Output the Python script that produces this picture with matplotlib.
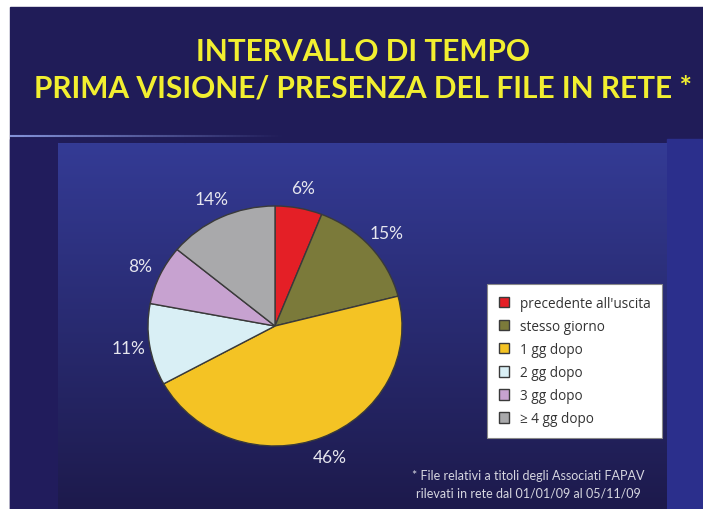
import matplotlib.pyplot as plt
from matplotlib.patches import Rectangle
import numpy as np

# data
labels = ["precedente all'uscita", "stesso giorno", "1 gg dopo",
          "2 gg dopo", "3 gg dopo", "\u2265 4 gg dopo"]
values = [6, 15, 46, 11, 8, 14]
colors = ['#e41f26', '#7b7a3a', '#f4c324', '#d9eff5', '#c7a2d0', '#a9a9ab']

title = "INTERVALLO DI TEMPO\nPRIMA VISIONE/ PRESENZA DEL FILE IN RETE *"
note = "* File relativi a titoli degli Associati FAPAV\nrilevati in rete dal 01/01/09 al 05/11/09"

W, H = 703, 510
fig = plt.figure(figsize=(W / 100, H / 100), dpi=100)
fig.patch.set_facecolor('white')

# slide background drawn in pixel coordinates
bg = fig.add_axes([0, 0, 1, 1])
bg.axis('off')
bg.add_patch(Rectangle((10, 8), W - 10, H - 8, color='#201c58', zorder=0))
bg.add_patch(Rectangle((10, 140), 48, H - 140, color='#211c5c', zorder=0))
bg.add_patch(Rectangle((667, 140), W - 667, H - 140, color='#2b2f8c', zorder=0))
grad = np.linspace(0, 1, 256)[:, None]
top = np.array([0x34, 0x3b, 0x95]) / 255
bot = np.array([0x1d, 0x1a, 0x4c]) / 255
img = top[None, None, :] * (1 - grad[..., None]) + bot[None, None, :] * grad[..., None]
bg.imshow(img, extent=(58, 667, H, 144), aspect='auto', interpolation='bilinear', zorder=1)
# thin glow line under the header
xs = np.linspace(10, W, 200)
for i in range(len(xs) - 1):
    a = max(0.0, 0.9 - (xs[i] - 10) / 300)
    bg.plot(xs[i:i + 2], [137, 137], color='#8fa0e8', lw=1.5, alpha=a,
            solid_capstyle='butt', zorder=2)
bg.set_xlim(0, W)
bg.set_ylim(H, 0)

fig.text(0.516, 0.862, title, ha='center', va='center', color='#f2ef30',
         fontsize=21.5, fontweight='bold', family='Lato', linespacing=1.4)

# pie
ax = fig.add_axes([148 / W, 1 - 447 / H, 254 / W, 240 / H])
wedges, _, autotexts = ax.pie(values, colors=colors, startangle=90, counterclock=False,
                              autopct='%d%%', pctdistance=1.17,
                              wedgeprops=dict(edgecolor='#3a3a3a', linewidth=1))
for t in autotexts:
    t.set_color('#e6e6ee')
    t.set_fontsize(12.5)
    t.set_family('Lato')
ax.set_aspect('auto')
ax.set_xlim(-1, 1)
ax.set_ylim(-1, 1)

leg = fig.legend(wedges, labels, loc='upper left',
                 bbox_to_anchor=(487 / W, 1 - 285 / H), frameon=True,
                 fancybox=False, prop={'family': 'Open Sans', 'size': 9.8},
                 handlelength=0.8, handleheight=0.8, handletextpad=0.75,
                 labelspacing=0.6, borderpad=0.85, borderaxespad=0)
leg.get_frame().set_facecolor('white')
leg.get_frame().set_alpha(1)
leg.get_frame().set_edgecolor('#888888')
leg.get_frame().set_linewidth(0.8)
for t in leg.get_texts():
    t.set_color('#333333')

fig.text(528 / W, 1 - 485 / H, note, ha='center', va='center', color='#d6d6e0',
         fontsize=9, family='Lato', linespacing=1.5)

fig.savefig('out.png', dpi=100)
